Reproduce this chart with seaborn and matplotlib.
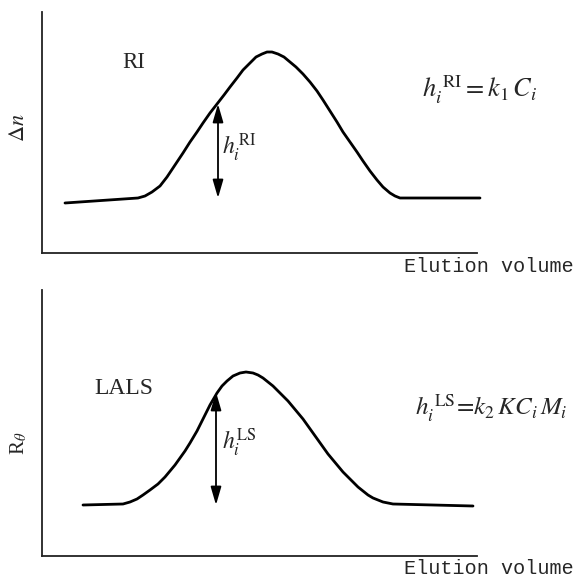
import numpy as np
import pandas as pd
import matplotlib
matplotlib.use("Agg")
import matplotlib.pyplot as plt
import seaborn as sns

# ---- data (arbitrary units) ----
ri_volume = [23, 96, 103, 110, 118, 125, 133, 141, 148, 155, 161, 168, 175, 182,
             188, 195, 201, 208, 214, 220, 225, 230, 236, 242, 248, 254, 261, 268,
             275, 281, 288, 295, 301, 308, 315, 321, 328, 335, 341, 348, 353, 358, 438]
ri_signal = [50, 55, 57, 61, 67, 76, 88, 100, 111, 121, 130, 140, 149, 158,
             166, 175, 183, 190, 196, 199, 201, 201, 199, 196, 191, 186, 179, 171,
             162, 153, 142, 131, 121, 111, 101, 92, 82, 73, 66, 60, 57, 55, 55]

ls_volume = [41, 81, 88, 95, 101, 108, 116, 123, 128, 133, 138, 143, 148, 155,
             161, 168, 175, 180, 185, 191, 198, 204, 211, 216, 221, 226, 231, 236,
             241, 246, 251, 256, 261, 266, 271, 276, 281, 286, 291, 296, 301, 306,
             311, 316, 321, 326, 331, 336, 341, 346, 351, 431]
ls_signal = [51, 52, 54, 57, 61, 66, 72, 79, 85, 91, 98, 105, 113, 125,
             137, 151, 163, 170, 175, 180, 183, 184, 183, 181, 178, 174, 170, 165,
             160, 155, 149, 143, 137, 130, 123, 116, 109, 102, 96, 90, 84, 79,
             74, 69, 65, 61, 58, 56, 54, 53, 52, 50]

ri_arrow = (176, 55, 149)   # volume, baseline, curve
ls_arrow = (174, 51, 164)

sns.set_style("white")
plt.rcParams["mathtext.fontset"] = "stix"
plt.rcParams["font.family"] = ["Liberation Serif", "DejaVu Serif"]

W, H = 575, 577
fig = plt.figure(figsize=(W / 100, H / 100), dpi=100)

def make_ax(left, top, right, bottom):
    return fig.add_axes([left / W, 1 - bottom / H, (right - left) / W, (bottom - top) / H])

ax1 = make_ax(42, 12, 477, 253)
ax2 = make_ax(42, 290, 477, 556)

for ax, ylim_top in ((ax1, 241), (ax2, 266)):
    ax.set_xlim(0, 435)
    ax.set_ylim(0, ylim_top)
    ax.set_xticks([])
    ax.set_yticks([])
    sns.despine(ax=ax)
    for s in ("left", "bottom"):
        ax.spines[s].set_linewidth(1.3)
        ax.spines[s].set_color("#222222")

df1 = pd.DataFrame({"volume": ri_volume, "signal": ri_signal})
df2 = pd.DataFrame({"volume": ls_volume, "signal": ls_signal})
sns.lineplot(data=df1, x="volume", y="signal", ax=ax1, color="black", lw=2.0,
             sort=False, estimator=None, clip_on=False)
sns.lineplot(data=df2, x="volume", y="signal", ax=ax2, color="black", lw=2.0,
             sort=False, estimator=None, clip_on=False)
for ax in (ax1, ax2):
    ax.set_xlabel("")
    ax.set_ylabel("")
    for line in ax.lines:
        line.set_solid_joinstyle("round")
        line.set_solid_capstyle("round")

arrow_props = dict(arrowstyle="<|-|>,head_length=0.55,head_width=0.16", color="black",
                   lw=1.3, shrinkA=0, shrinkB=0, mutation_scale=20)
ax1.annotate("", xy=(ri_arrow[0], ri_arrow[2]), xytext=(ri_arrow[0], ri_arrow[1]),
             arrowprops=arrow_props)
ax2.annotate("", xy=(ls_arrow[0], ls_arrow[2]), xytext=(ls_arrow[0], ls_arrow[1]),
             arrowprops=arrow_props)

# texts (figure pixel coordinates)
def ftext(x, y, s, **kw):
    fig.text(x / W, 1 - y / H, s, **kw)

ftext(122, 62, "RI", fontsize=16.5, va="center", ha="left")
ftext(94, 389, "LALS", fontsize=17, va="center", ha="left")
ftext(222, 148, r"$h_i^{\,\mathrm{RI}}$", fontsize=17, va="center", ha="left")
ftext(222, 443, r"$h_i^{\mathrm{LS}}$", fontsize=17, va="center", ha="left")
ftext(422, 90, r"$h_i^{\;\mathrm{RI}}\,\!=\!\,k_1\,C_i$", fontsize=19, va="center", ha="left")
ftext(415, 408, r"$h_i^{\;\mathrm{LS}}\!=\!k_2\,KC_i\,M_i$", fontsize=18, va="center", ha="left")
ftext(574, 267, "Elution volume", fontsize=14.5, va="center", ha="right",
      family="Liberation Mono")
ftext(574, 569, "Elution volume", fontsize=14.5, va="center", ha="right",
      family="Liberation Mono")
ftext(19, 128, r"$\Delta n$", fontsize=16, va="center", ha="center", rotation=90)
ftext(19, 443, r"R$_\theta$", fontsize=15, va="center", ha="center", rotation=90)

fig.savefig("out.png", dpi=100)
